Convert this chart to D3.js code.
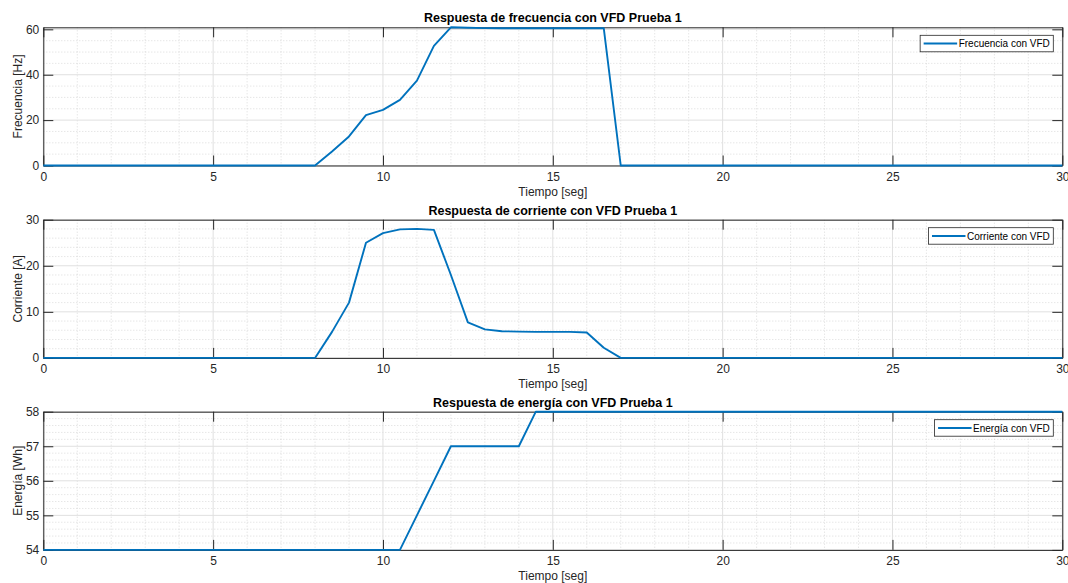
<!DOCTYPE html>
<html>
<head>
<meta charset="utf-8">
<script src="https://cdn.jsdelivr.net/npm/d3@7"></script>
<style>
  html, body { margin: 0; padding: 0; background: #fff; }
  svg { display: block; font-family: "Liberation Sans", Arial, Helvetica, sans-serif; }
</style>
</head>
<body>
<svg id="chart" width="1068" height="583"></svg>
<script>
// Sample times (s) and measured signals for VFD test 1
const freqTime = [0, 8, 8.5, 9, 9.5, 10, 10.5, 11, 11.5, 12, 12.5, 13, 13.5, 14, 14.5, 15, 15.5, 16, 16.5, 17, 30];
const freqValues = [0, 0, 6.2, 12.8, 22.2, 24.5, 28.9, 37.4, 52.7, 60.9, 60.7, 60.55, 60.45, 60.45, 60.45, 60.45, 60.45, 60.45, 60.5, 0, 0];

const currTime = [0, 8, 8.5, 9, 9.5, 10, 10.5, 11, 11.5, 12, 12.5, 13, 13.5, 14, 14.5, 15, 15.5, 16, 16.5, 17, 30];
const currValues = [0, 0, 5.65, 12.0, 25.0, 27.1, 27.9, 28.0, 27.8, 18.0, 7.7, 6.2, 5.8, 5.7, 5.65, 5.65, 5.65, 5.5, 2.2, 0, 0];

const energyTime = [0, 10.5, 11, 11.5, 12, 12.5, 13, 13.5, 14, 14.5, 30];
const energyValues = [54, 54, 55, 56, 57, 57, 57, 57, 57, 58, 58];

const xTicks = [0, 5, 10, 15, 20, 25, 30];
const xMinorTicks = [1,2,3,4,6,7,8,9,11,12,13,14,16,17,18,19,21,22,23,24,26,27,28,29];

const panels = [
  { title: "Respuesta de frecuencia con VFD Prueba 1", ylabel: "Frecuencia [Hz]", legend: "Frecuencia con VFD",
    t: freqTime, v: freqValues, yDomain: [0, d3.max(freqValues)],
    yTicks: [0, 20, 40, 60], yMinor: [5, 10, 15, 25, 30, 35, 45, 50, 55] },
  { title: "Respuesta de corriente con VFD Prueba 1", ylabel: "Corriente [A]", legend: "Corriente con VFD",
    t: currTime, v: currValues, yDomain: [0, 30],
    yTicks: [0, 10, 20, 30], yMinor: [2, 4, 6, 8, 12, 14, 16, 18, 22, 24, 26, 28] },
  { title: "Respuesta de energía con VFD Prueba 1", ylabel: "Energía [Wh]", legend: "Energía con VFD",
    t: energyTime, v: energyValues, yDomain: [54, 58],
    yTicks: [54, 55, 56, 57, 58], yMinor: [54.2, 54.4, 54.6, 54.8, 55.2, 55.4, 55.6, 55.8, 56.2, 56.4, 56.6, 56.8, 57.2, 57.4, 57.6, 57.8] }
];

const svg = d3.select("#chart");
const left = 43.3, right = 1062.3;
const tops = [27.3, 219.7, 411.7];
const plotH = 138.2;
const axisColor = "#262626";
const lineColor = "#0072BD";
const tickLen = 10;
const labelSize = "12px";

const x = d3.scaleLinear().domain([0, 30]).range([left, right]);

panels.forEach((p, i) => {
  const top = tops[i], bottom = top + plotH;
  const y = d3.scaleLinear().domain(p.yDomain).range([bottom, top]);
  const g = svg.append("g");

  // minor grid (dotted)
  const minor = g.append("g").attr("stroke", "#c4c4c4").attr("stroke-width", 0.6).attr("stroke-dasharray", "1,2");
  xMinorTicks.forEach(d => minor.append("line")
    .attr("x1", x(d)).attr("x2", x(d)).attr("y1", top).attr("y2", bottom));
  p.yMinor.forEach(d => minor.append("line")
    .attr("x1", left).attr("x2", right).attr("y1", y(d)).attr("y2", y(d)));

  // major grid
  const major = g.append("g").attr("stroke", "#e0e0e0").attr("stroke-width", 1);
  xTicks.forEach(d => major.append("line")
    .attr("x1", x(d)).attr("x2", x(d)).attr("y1", top).attr("y2", bottom));
  p.yTicks.forEach(d => major.append("line")
    .attr("x1", left).attr("x2", right).attr("y1", y(d)).attr("y2", y(d)));

  // axes: bottom / left with labels, top / right mirrored ticks only
  const fmt = d3.format("d");
  const xAxisB = d3.axisBottom(x).tickValues(xTicks).tickFormat(fmt).tickSizeInner(-tickLen).tickSizeOuter(0).tickPadding(6.5);
  const gx = g.append("g").attr("transform", `translate(0,${bottom})`).call(xAxisB);
  const xAxisT = d3.axisTop(x).tickValues(xTicks).tickSizeInner(-tickLen).tickSizeOuter(0).tickFormat("");
  const gxt = g.append("g").attr("transform", `translate(0,${top})`).call(xAxisT);
  const yAxisL = d3.axisLeft(y).tickValues(p.yTicks).tickFormat(fmt).tickSizeInner(-tickLen).tickSizeOuter(0).tickPadding(4);
  const gy = g.append("g").attr("transform", `translate(${left},0)`).call(yAxisL);
  const yAxisR = d3.axisRight(y).tickValues(p.yTicks).tickSizeInner(-tickLen).tickSizeOuter(0).tickFormat("");
  const gyr = g.append("g").attr("transform", `translate(${right},0)`).call(yAxisR);

  [gx, gxt, gy, gyr].forEach(a => {
    a.select(".domain").attr("stroke", axisColor).attr("stroke-width", 1);
    a.selectAll(".tick line").attr("stroke", axisColor).attr("stroke-width", 1);
    a.selectAll(".tick text").attr("fill", axisColor).style("font-size", labelSize)
      .style("font-family", "'Liberation Sans', Arial, sans-serif");
  });

  // data line
  const pts = p.t.map((t, k) => [t, p.v[k]]);
  g.append("path")
    .datum(pts)
    .attr("fill", "none")
    .attr("stroke", lineColor)
    .attr("stroke-width", 1.9)
    .attr("stroke-linejoin", "round")
    .attr("d", d3.line().x(d => x(d[0])).y(d => y(d[1])));

  // title
  g.append("text")
    .attr("x", (left + right) / 2).attr("y", top - 5)
    .attr("text-anchor", "middle")
    .attr("font-weight", "bold").attr("font-size", "12.5px").attr("fill", "#000")
    .text(p.title);

  // x label
  g.append("text")
    .attr("x", (left + right) / 2).attr("y", bottom + 30.5)
    .attr("text-anchor", "middle").attr("font-size", labelSize).attr("fill", axisColor)
    .text("Tiempo [seg]");

  // y label
  g.append("text")
    .attr("transform", `translate(21.5,${(top + bottom) / 2}) rotate(-90)`)
    .attr("text-anchor", "middle").attr("font-size", labelSize).attr("fill", axisColor)
    .text(p.ylabel);

  // legend
  const lg = g.append("g");
  const box = lg.append("rect");
  const txt = lg.append("text").attr("font-size", "10px").attr("fill", "#000").text(p.legend);
  const tw = txt.node().getComputedTextLength();
  const bw = 38.5 + tw + 3.5, bh = 16.5;
  const bx = right - 9 - bw, by = top + 8;
  box.attr("x", bx).attr("y", by).attr("width", bw).attr("height", bh)
    .attr("fill", "#fff").attr("stroke", axisColor).attr("stroke-width", 0.8);
  lg.append("line").attr("x1", bx + 3.5).attr("x2", bx + 37).attr("y1", by + bh / 2).attr("y2", by + bh / 2)
    .attr("stroke", lineColor).attr("stroke-width", 1.9);
  txt.attr("x", bx + 38.5).attr("y", by + bh / 2 + 3.6);
});
</script>
</body>
</html>
